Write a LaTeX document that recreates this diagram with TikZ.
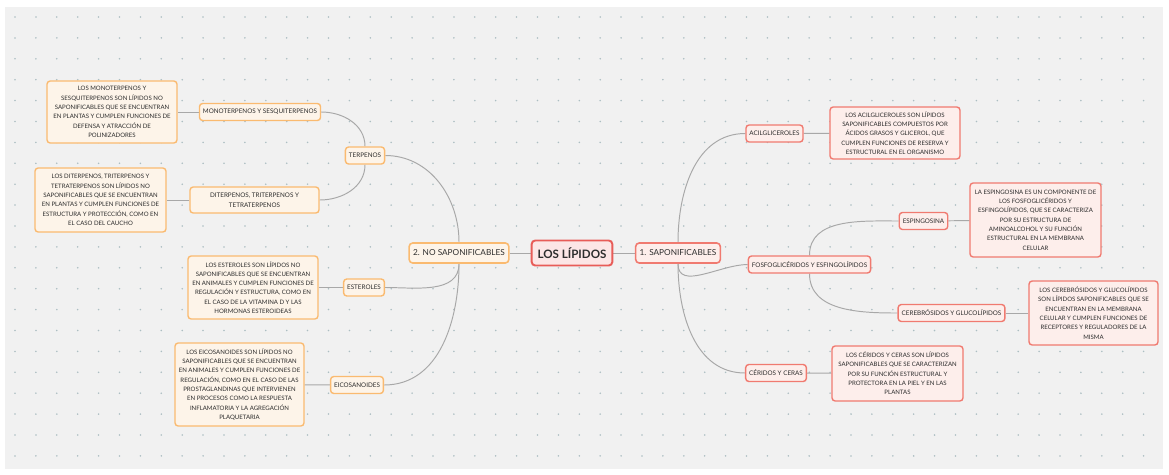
\documentclass[tikz,border=0pt]{standalone}
\usepackage{fontspec}
\setmainfont{Lato}
\usepackage{tikz}
\usetikzlibrary{
    positioning,
    calc
}
\definecolor{paperGray}{RGB}{241,241,241}
\definecolor{dotGray}{RGB}{172,190,194}
\definecolor{linkGray}{RGB}{168,168,168}
\definecolor{txtGray}{RGB}{45,45,45}
\definecolor{orgLine}{RGB}{250,186,112}
\definecolor{orgFill}{RGB}{253,244,233}
\definecolor{redLine}{RGB}{240,122,112}
\definecolor{redFill}{RGB}{253,238,235}
\definecolor{rootLine}{RGB}{232,92,88}
\definecolor{rootFill}{RGB}{252,230,230}
\pgfdeclarelayer{bg}
\pgfdeclarelayer{edges}
\pgfsetlayers{bg,edges,main}
\tikzset{
  root/.style   = {draw=rootLine, fill=rootFill, line width=1.1pt, rounded corners=2pt,
                   minimum width=1.6cm, minimum height=0.5cm, text=txtGray,
                   font=\fontsize{6.6}{8}\selectfont\bfseries},
  mainO/.style  = {draw=orgLine, fill=orgFill, line width=0.9pt, rounded corners=2pt,
                   minimum height=0.4cm, inner xsep=0.08cm, text=txtGray,
                   font=\fontsize{4.7}{5.6}\selectfont},
  mainR/.style  = {mainO, draw=redLine, fill=redFill},
  subO/.style   = {draw=orgLine, fill=orgFill, line width=0.8pt, rounded corners=1.8pt,
                   minimum height=0.34cm, inner xsep=0.07cm, inner ysep=1pt,
                   align=center, text=txtGray, font=\fontsize{3.6}{5.7}\selectfont},
  subR/.style   = {subO, draw=redLine, fill=redFill},
  descO/.style  = {draw=orgLine, fill=orgFill, line width=0.8pt, rounded corners=1.8pt,
                   minimum width=2.6cm, align=center, inner sep=1pt, text=txtGray,
                   font=\fontsize{3.45}{5.3}\selectfont},
  descR/.style  = {descO, draw=redLine, fill=redFill},
  link/.style   = {linkGray, line width=0.55pt}
}

\begin{document}
\begin{tikzpicture}[x=0.02cm, y=-0.02cm]
\useasboundingbox (0,0) rectangle (1169,474);
\begin{pgfonlayer}{bg}
\fill[paperGray] (5,7) rectangle (1163,469);
\foreach \i in {0,...,54}
  \foreach \j in {0,...,21}
    \fill[dotGray] (15+20.9*\i,17+20.9*\j) circle (0.5pt);
\end{pgfonlayer}

\node[root] (lipidos) at (572,253) {LOS LÍPIDOS};
\node[mainO] (nosap) at (459,253) {2. NO SAPONIFICABLES};
\node[mainR] (sap) at (678,253) {1. SAPONIFICABLES};

\node[subO] (terp) at (365,155.5) {TERPENOS};
\node[subO] (ester) at (364,287.5) {ESTEROLES};
\node[subO] (eico) at (357,385) {EICOSANOIDES};
\node[subO] (mono) at (260,112) {MONOTERPENOS Y SESQUITERPENOS};
\node[subO, minimum width=2.58cm, minimum height=0.52cm] (di) at (254.5,200)
  {DITERPENOS, TRITERPENOS Y\\TETRATERPENOS};

\node[descO, minimum height=1.24cm] (monod) at (112,112)
  {LOS MONOTERPENOS Y\\SESQUITERPENOS SON LÍPIDOS NO\\SAPONIFICABLES QUE SE ENCUENTRAN\\EN PLANTAS Y CUMPLEN FUNCIONES DE\\DEFENSA Y ATRACCIÓN DE\\POLINIZADORES};
\node[descO, minimum width=2.62cm, minimum height=1.28cm] (did) at (100.5,200)
  {LOS DITERPENOS, TRITERPENOS Y\\TETRATERPENOS SON LÍPIDOS NO\\SAPONIFICABLES QUE SE ENCUENTRAN\\EN PLANTAS Y CUMPLEN FUNCIONES DE\\ESTRUCTURA Y PROTECCIÓN, COMO EN\\EL CASO DEL CAUCHO};
\node[descO, minimum height=1.26cm] (esterd) at (253,287.5)
  {LOS ESTEROLES SON LÍPIDOS NO\\SAPONIFICABLES QUE SE ENCUENTRAN\\EN ANIMALES Y CUMPLEN FUNCIONES DE\\REGULACIÓN Y ESTRUCTURA, COMO EN\\EL CASO DE LA VITAMINA D Y LAS\\HORMONAS ESTEROIDEAS};
\node[descO, minimum width=2.58cm, minimum height=1.66cm] (eicod) at (239.5,384.5)
  {LOS EICOSANOIDES SON LÍPIDOS NO\\SAPONIFICABLES QUE SE ENCUENTRAN\\EN ANIMALES Y CUMPLEN FUNCIONES DE\\REGULACIÓN, COMO EN EL CASO DE LAS\\PROSTAGLANDINAS QUE INTERVIENEN\\EN PROCESOS COMO LA RESPUESTA\\INFLAMATORIA Y LA AGREGACIÓN\\PLAQUETARIA};

\node[subR] (acil) at (774.5,133.5) {ACILGLICEROLES};
\node[subR] (fosfo) at (809.5,264.5) {FOSFOGLICÉRIDOS Y ESFINGOLÍPIDOS};
\node[subR] (esping) at (923.5,221) {ESPINGOSINA};
\node[subR] (cereb) at (951.5,313) {CEREBRÓSIDOS Y GLUCOLÍPIDOS};
\node[subR] (cerid) at (776,373) {CÉRIDOS Y CERAS};

\node[descR, minimum height=1.04cm] (acild) at (895,133)
  {LOS ACILGLICEROLES SON LÍPIDOS\\SAPONIFICABLES COMPUESTOS POR\\ÁCIDOS GRASOS Y GLICEROL, QUE\\CUMPLEN FUNCIONES DE RESERVA Y\\ESTRUCTURAL EN EL ORGANISMO};
\node[descR, minimum width=2.62cm, minimum height=1.48cm] (espingd) at (1035.5,220)
  {LA ESPINGOSINA ES UN COMPONENTE DE\\LOS FOSFOGLICÉRIDOS Y\\ESFINGOLÍPIDOS, QUE SE CARACTERIZA\\POR SU ESTRUCTURA DE\\AMINOALCOHOL Y SU FUNCIÓN\\ESTRUCTURAL EN LA MEMBRANA\\CELULAR};
\node[descR, minimum width=2.58cm, minimum height=1.28cm] (cerebd) at (1093.5,313)
  {LOS CEREBRÓSIDOS Y GLUCOLÍPIDOS\\SON LÍPIDOS SAPONIFICABLES QUE SE\\ENCUENTRAN EN LA MEMBRANA\\CELULAR Y CUMPLEN FUNCIONES DE\\RECEPTORES Y REGULADORES DE LA\\MISMA};
\node[descR, minimum width=2.62cm, minimum height=1.1cm] (ceridd) at (897.5,373.5)
  {LOS CÉRIDOS Y CERAS SON LÍPIDOS\\SAPONIFICABLES QUE SE CARACTERIZAN\\POR SU FUNCIÓN ESTRUCTURAL Y\\PROTECTORA EN LA PIEL Y EN LAS\\PLANTAS};

\begin{pgfonlayer}{edges}
\draw[link] (nosap) -- (lipidos);
\draw[link] (lipidos) -- (sap);
\draw[link] (nosap.north) to[out=90, in=0] (terp.east);
\draw[link] (nosap.south) to[out=-90, in=0] (ester.east);
\draw[link] (nosap.south) to[out=-90, in=0] (eico.east);
\draw[link] (terp.north) to[out=90, in=0] (mono.east);
\draw[link] (terp.south) to[out=-90, in=0] (di.east);
\draw[link] (mono) -- (monod);
\draw[link] (di) -- (did);
\draw[link] (ester) -- (esterd);
\draw[link] (eico) -- (eicod);
\draw[link] (sap.north) to[out=90, in=180] (acil.west);
\draw[link] (sap.south) to[out=-90, in=180] (fosfo.west);
\draw[link] (sap.south) to[out=-90, in=180] (cerid.west);
\draw[link] (fosfo.north) to[out=90, in=180] (esping.west);
\draw[link] (fosfo.south) to[out=-90, in=180] (cereb.west);
\draw[link] (acil) -- (acild);
\draw[link] (esping) -- (espingd);
\draw[link] (cereb) -- (cerebd);
\draw[link] (cerid) -- (ceridd);
\end{pgfonlayer}
\end{tikzpicture}
\end{document}
